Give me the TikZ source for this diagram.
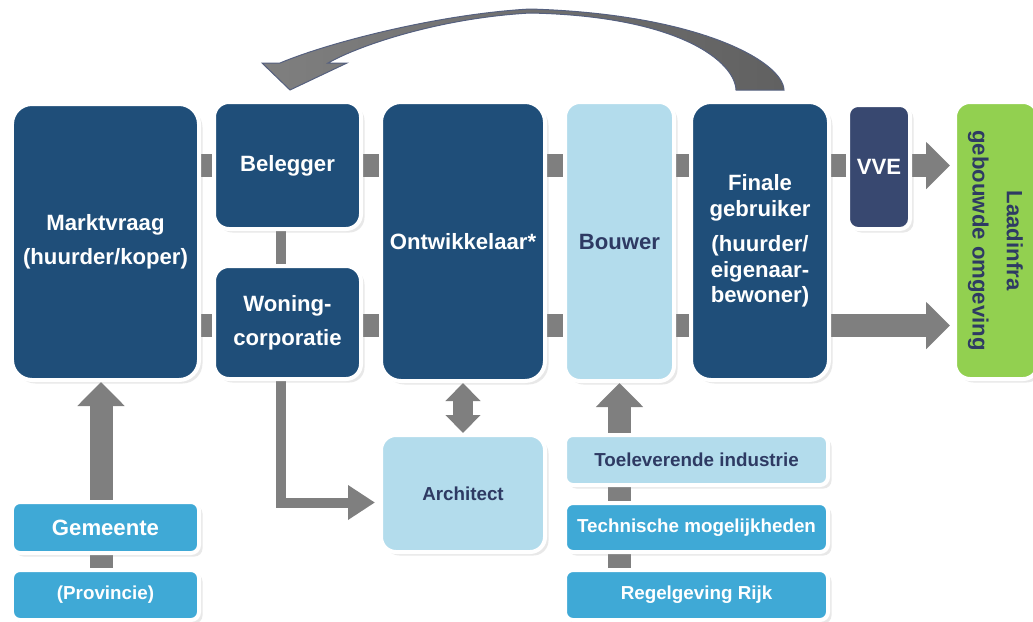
\documentclass[tikz,border=0pt]{standalone}
\usepackage{fontspec}
\setmainfont{Liberation Sans}
\usetikzlibrary{arrows.meta,backgrounds,shadows,calc}

\definecolor{dkblue}{HTML}{1F4E79}
\definecolor{ltblue}{HTML}{B3DCEC}
\definecolor{mdblue}{HTML}{3FA9D6}
\definecolor{vvecol}{HTML}{384870}
\definecolor{grcol}{HTML}{92D050}
\definecolor{navytxt}{HTML}{2E3A63}
\definecolor{bargray}{HTML}{7F7F7F}
\definecolor{outl}{HTML}{55607F}

\newcommand{\bigtxt}{\fontsize{12.6}{19.5}\selectfont\bfseries}
\newcommand{\smalltxt}{\fontsize{10.7}{13}\selectfont\bfseries}

\tikzset{
  box/.style={draw=white, line width=0.8mm, rounded corners=3mm, inner sep=0pt, align=center,
    text=white, font=\bigtxt, drop shadow={shadow xshift=0.7mm, shadow yshift=-0.7mm, opacity=0.18}},
  mainbox/.style={box, fill=dkblue, rounded corners=4mm},
  lightbox/.style={box, fill=ltblue, text=navytxt},
  stripbox/.style={box, fill=mdblue, rounded corners=1.6mm, font=\smalltxt},
  blockarr/.style={draw=bargray, line width=4.6mm, -{Triangle[width=9.2mm,length=4.8mm]}},
  thinarr/.style={draw=bargray, line width=2mm, -{Triangle[width=6.6mm,length=5.4mm]}},
  dblarr/.style={draw=bargray, line width=4mm, {Triangle[width=6.8mm,length=3.6mm]}-{Triangle[width=6.8mm,length=3.6mm]}},
  curvearr/.style={draw=outl, line width=0.2mm, left color=bargray, right color=black!62}
}

\begin{document}
\begin{tikzpicture}[x=0.2mm, y=-0.2mm]
  \useasboundingbox (0,0) rectangle (1033,621);

  % top row
  \node[mainbox, minimum width=37.4mm, minimum height=55.2mm] (markt) at (105.5,242) {Marktvraag\\(huurder/koper)};
  \node[mainbox, rounded corners=3mm, minimum width=29.4mm, minimum height=25.4mm] (beleg) at (287.5,165.5) {Belegger};
  \node[mainbox, rounded corners=3mm, minimum width=29.4mm, minimum height=22.6mm] (woning) at (287.5,322.5) {Woning-\\corporatie};
  \node[mainbox, minimum width=32.8mm, minimum height=55.8mm] (ontw) at (463,241.5) {Ontwikkelaar*};
  \node[lightbox, minimum width=21.8mm, minimum height=55.8mm] (bouwer) at (619.5,241.5) {Bouwer};
  \node[mainbox, minimum width=27.6mm, minimum height=55.6mm, font=\fontsize{12.6}{14.5}\selectfont\bfseries] (finale) at (760,241)
    {Finale\\gebruiker\\[2mm](huurder/\\eigenaar-\\bewoner)};
  \node[box, fill=vvecol, rounded corners=2mm, minimum width=12.4mm, minimum height=24.8mm] (vve) at (879,167) {VVE};
  \node[box, fill=grcol, text=navytxt, minimum width=16.6mm, minimum height=55.4mm] (laad) at (996.5,240.5)
    {\rotatebox{-90}{\begin{tabular}{@{}c@{}}Laadinfra\\gebouwde omgeving\end{tabular}}};

  % lower part
  \node[lightbox, font=\smalltxt, minimum width=32.8mm, minimum height=23.4mm] (arch) at (463,493.5) {Architect};
  \node[lightbox, font=\smalltxt, rounded corners=1.6mm, minimum width=52.6mm, minimum height=10mm] (toel) at (696.5,460) {Toeleverende industrie};
  \node[stripbox, minimum width=52.6mm, minimum height=9.8mm] (techn) at (696.5,527.5) {Technische mogelijkheden};
  \node[stripbox, minimum width=52.6mm, minimum height=10mm] (regel) at (696.5,595) {Regelgeving Rijk};
  \node[stripbox, font=\bigtxt, minimum width=37.4mm, minimum height=10.2mm] (gem) at (105.5,527.5) {Gemeente};
  \node[stripbox, minimum width=37.4mm, minimum height=10mm] (prov) at (105.5,595) {(Provincie)};

  \begin{pgfonlayer}{background}
    \draw[blockarr, shorten >=0.6mm] (markt.center |- beleg.center) -- (laad.west |- beleg.center);
    \draw[blockarr, shorten >=0.6mm] ($(markt.center |- woning.center)+(0,3)$) -- ($(laad.west |- woning.center)+(0,3)$);
    \draw[thinarr, shorten >=0.8mm] ($(beleg.center)+(-6.5,0)$) |- ($(arch.west)+(0,9)$);
    \draw[dblarr] (ontw.south) -- (arch.north);
    \draw[blockarr] ($(prov.north)+(-4.5,0)$) -- ($(markt.south)+(-4.5,0)$);
    \draw[blockarr] (bouwer.south |- regel.north) -- (bouwer.south);
  \end{pgfonlayer}

  % return arrow over the top
  \coordinate (cs) at ($(finale.north)+(0,-10)$);
  \coordinate (ce) at ($(beleg.north)+(2.5,-10)$);
  \path[curvearr] ($(cs)+(24,0)$) .. controls (783,62) and (700,14) .. (530,9)
    .. controls (440,14) and (330,42) .. (280,63) -- (262,63) -- (ce) -- (347,63) -- (328,63)
    .. controls (360,45) and (440,18) .. (530,13) .. controls (680,16) and (735,62) .. ($(cs)+(-24,0)$) -- cycle;
\end{tikzpicture}
\end{document}
